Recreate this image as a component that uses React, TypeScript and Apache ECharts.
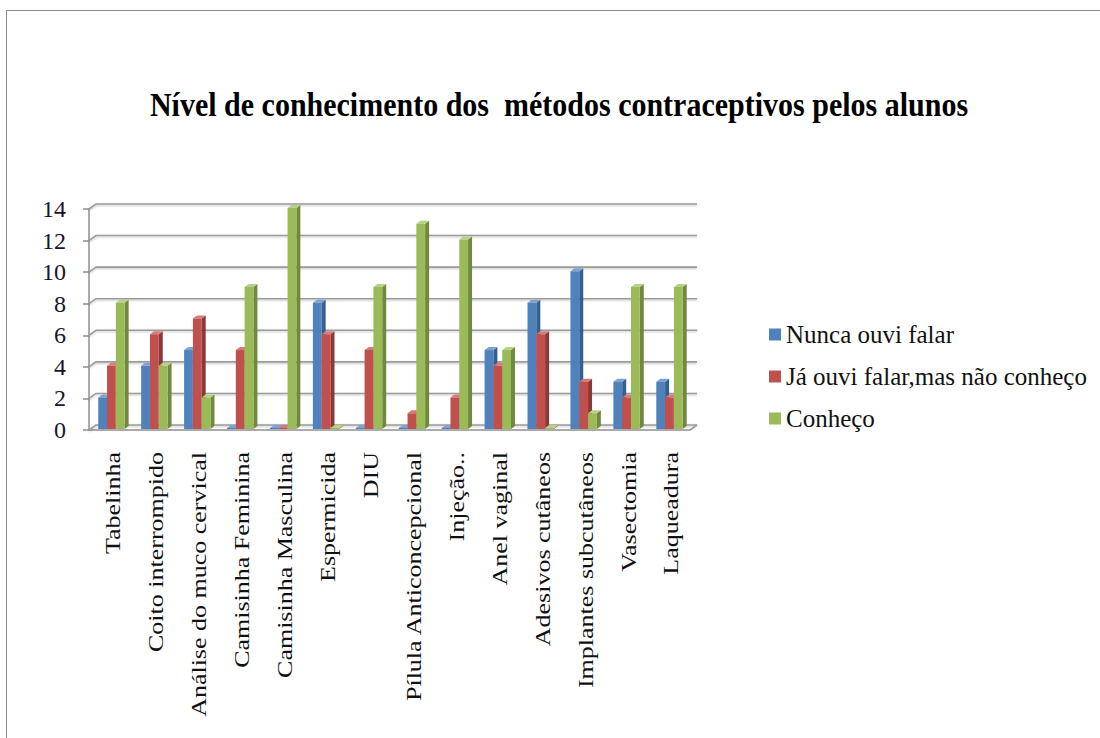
import React, { useEffect, useRef } from "react";
import * as echarts from "echarts";

const categories = [
  "Tabelinha",
  "Coito interrompido",
  "Análise do muco cervical",
  "Camisinha Feminina",
  "Camisinha Masculina",
  "Espermicida",
  "DIU",
  "Pílula Anticoncepcional",
  "Injeção..",
  "Anel vaginal",
  "Adesivos cutâneos",
  "Implantes subcutâneos",
  "Vasectomia",
  "Laqueadura",
];
const seriesNames = ["Nunca ouvi falar", "Já ouvi falar,mas não conheço", "Conheço"];
const nuncaOuvi = [2, 4, 5, 0, 0, 8, 0, 0, 0, 5, 8, 10, 3, 3];
const jaOuvi = [4, 6, 7, 5, 0, 6, 5, 1, 2, 4, 6, 3, 2, 2];
const conheco = [8, 4, 2, 9, 14, 0, 9, 13, 12, 5, 0, 1, 9, 9];
const yTicks = [0, 2, 4, 6, 8, 10, 12, 14];
const title = "Nível de conhecimento dos  métodos contraceptivos pelos alunos";

const palettes = [
  { front: "#4F81BD", side: "#365F91", top: "#7FA3D1" },
  { front: "#C0504D", side: "#8C3836", top: "#D37C7A" },
  { front: "#9BBB59", side: "#71893F", top: "#B9D088" },
];

const SERIF = "Liberation Serif";

function barSeries(name: string, values: number[], s: number) {
  const c = palettes[s];
  return {
    type: "custom",
    name,
    data: values.map((v, i) => [i, v]),
    encode: { x: 0, y: 1 },
    itemStyle: { color: c.front },
    z: 3 + s,
    clip: false,
    renderItem: (params: any, api: any) => {
      const idx = api.value(0);
      const v = api.value(1);
      const base = api.coord([idx, 0]);
      const top = api.coord([idx, v]);
      const band = api.size([1, 0])[0];
      const bw = band * 0.205;
      const dx = 4;
      const dy = -3;
      const x0 = base[0] - band / 2 + band * 0.215 + s * bw;
      const yb = base[1] - 1;
      let yt = top[1] - 1;
      if (yb - yt < 1) yt = yb - 1;
      return {
        type: "group",
        children: [
          {
            type: "polygon",
            shape: { points: [[x0 + bw, yt], [x0 + bw + dx, yt + dy], [x0 + bw + dx, yb + dy], [x0 + bw, yb]] },
            style: { fill: c.side },
          },
          {
            type: "polygon",
            shape: { points: [[x0, yt], [x0 + dx, yt + dy], [x0 + bw + dx, yt + dy], [x0 + bw, yt]] },
            style: { fill: c.top },
          },
          {
            type: "rect",
            shape: { x: x0, y: yt, width: bw, height: yb - yt },
            style: { fill: c.front },
          },
        ],
      };
    },
  };
}

export default function App() {
  const ref = useRef<HTMLDivElement>(null);
  useEffect(() => {
    if (!ref.current) return;
    const chart = echarts.init(ref.current, undefined, { renderer: "svg" });
    const option: any = {
      animation: false,
      backgroundColor: "#ffffff",
      textStyle: { fontFamily: SERIF },
      graphic: [
        {
          type: "text",
          x: 559,
          y: 105,
          scaleY: 1.12,
          style: {
            text: title,
            fontFamily: SERIF,
            fontWeight: "bold",
            fontSize: 30,
            fill: "#000",
            align: "center",
            verticalAlign: "middle",
          },
        },
      ],
      legend: {
        orient: "vertical",
        left: 764,
        top: 317,
        data: seriesNames,
        icon: "rect",
        itemWidth: 12,
        itemHeight: 12,
        itemGap: 17,
        textStyle: { fontFamily: SERIF, fontSize: 25, color: "#111", lineHeight: 25 },
      },
      grid: { left: 89, right: 410, top: 209, bottom: 308 },
      xAxis: {
        type: "category",
        data: categories,
        axisLine: { lineStyle: { color: "#8f8f8f", width: 1.5 } },
        axisTick: { length: 10, lineStyle: { color: "#8f8f8f", width: 1.5 } },
        axisLabel: { show: false },
        splitLine: { show: false },
      },
      yAxis: {
        type: "value",
        min: 0,
        max: 14,
        interval: 2,
        axisLine: { show: true, lineStyle: { color: "#8f8f8f", width: 1.5 } },
        axisTick: { show: true, length: 6, lineStyle: { color: "#8f8f8f", width: 1.5 } },
        axisLabel: { fontFamily: SERIF, fontSize: 24, color: "#151530", margin: 23 },
        splitLine: { show: false },
      },
      series: [
        {
          type: "custom",
          name: "grid",
          silent: true,
          clip: false,
          z: 1,
          data: yTicks.map((v) => [0, v]),
          encode: { x: 0, y: 1 },
          renderItem: (params: any, api: any) => {
            const v = api.value(1);
            const p0 = api.coord([0, v]);
            const p1 = api.coord([categories.length - 1, v]);
            const band = api.size([1, 0])[0];
            const left = p0[0] - band / 2;
            const right = p1[0] + band / 2;
            const y = p0[1];
            const children: any[] = [
              {
                type: "polyline",
                shape: { points: [[left, y], [left + 7, y - 5], [right + 7, y - 5]] },
                style: {
                  stroke: "#9c9c9c",
                  lineWidth: 1.6,
                  fill: null,
                  shadowColor: "rgba(0,0,0,0.25)",
                  shadowBlur: 2,
                  shadowOffsetY: 1,
                },
              },
            ];
            if (v === 0) {
              children.push({
                type: "line",
                shape: { x1: right, y1: y, x2: right + 7, y2: y - 5 },
                style: { stroke: "#9c9c9c", lineWidth: 1.6 },
              });
            }
            return { type: "group", children };
          },
        },
        barSeries(seriesNames[0], nuncaOuvi, 0),
        barSeries(seriesNames[1], jaOuvi, 1),
        barSeries(seriesNames[2], conheco, 2),
        {
          type: "custom",
          name: "labels",
          silent: true,
          clip: false,
          z: 5,
          data: categories.map((c, i) => [i, 0]),
          encode: { x: 0, y: 1 },
          renderItem: (params: any, api: any) => {
            const i = api.value(0);
            const p = api.coord([i, 0]);
            return {
              type: "text",
              x: p[0] + 3,
              y: p[1] + 22,
              rotation: Math.PI / 2,
              scaleX: 1.3,
              style: {
                text: categories[i],
                fontFamily: SERIF,
                fontSize: 20,
                fill: "#111",
                align: "right",
                verticalAlign: "middle",
              },
            };
          },
        },
      ],
    };
    chart.setOption(option);
    return () => chart.dispose();
  }, []);
  return (
    <div style={{ position: "fixed", left: 0, top: 0, width: 1100, height: 738, background: "#fff", overflow: "hidden" }}>
      <div ref={ref} style={{ position: "absolute", left: 0, top: 0, width: 1100, height: 738 }} />
      <div
        style={{
          position: "absolute",
          left: 6,
          top: 10,
          width: 1094,
          height: 728,
          borderTop: "1.5px solid #8c8c8c",
          borderLeft: "1.5px solid #8c8c8c",
          boxSizing: "border-box",
          pointerEvents: "none",
        }}
      />
    </div>
  );
}
